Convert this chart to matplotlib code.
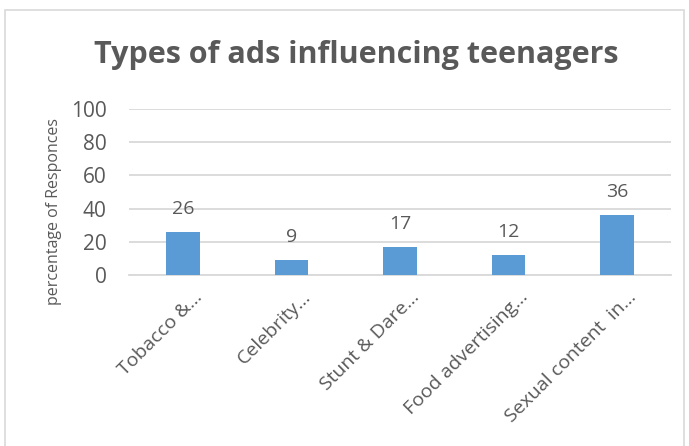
import matplotlib.pyplot as plt
from matplotlib.patches import Rectangle
from matplotlib.transforms import ScaledTranslation

categories = ["Tobacco &...", "Celebrity...", "Stunt & Dare...",
              "Food advertising...", "Sexual content  in..."]
responses = [26, 9, 17, 12, 36]
y_ticks = [0, 20, 40, 60, 80, 100]

plt.rcParams['font.family'] = ['Open Sans', 'DejaVu Sans']
text_color = '#595959'
bar_color = '#5B9BD5'
grid_color = '#D9D9D9'

fig = plt.figure(figsize=(6.89, 4.46), dpi=100)
W, H = 689, 446

# chart frame
fig.patches.append(Rectangle((5 / W, -0.05), 679 / W, 1.05 - 10 / H,
                             transform=fig.transFigure, fill=False,
                             edgecolor='#D9D9D9', linewidth=1.2))

ax = fig.add_axes([129 / W, 1 - 275 / H, 542 / W, 166 / H])
x = range(len(categories))
ax.bar(x, responses, width=0.31, color=bar_color, zorder=3)
for xi, v in zip(x, responses):
    ax.annotate(str(v), (xi, v), xytext=(0, 10), textcoords='offset points',
                ha='center', va='bottom', fontsize=14, color=text_color)

ax.set_xlim(-0.5, len(categories) - 0.5)
ax.set_ylim(0, 100)
ax.set_yticks(y_ticks)
ax.yaxis.grid(True, color=grid_color, linewidth=1.3, zorder=0)
for s in ['top', 'right', 'left']:
    ax.spines[s].set_visible(False)
ax.spines['bottom'].set_color(grid_color)
ax.spines['bottom'].set_linewidth(1.3)
ax.tick_params(axis='y', length=0, labelsize=15, colors=text_color, pad=16)
ax.tick_params(axis='x', length=0, labelsize=14, colors=text_color, pad=8)
ax.set_xticks(list(x))
ax.set_xticklabels(categories, rotation=45, ha='right', rotation_mode='anchor')
# nudge the slanted labels a little to the right
shift = ScaledTranslation(10 / 100, -2 / 100, fig.dpi_scale_trans)
for lbl in ax.get_xticklabels():
    lbl.set_transform(lbl.get_transform() + shift)
ax.set_ylabel("percentage of Responces", fontsize=11.5, color=text_color)
ax.yaxis.set_label_coords(-67 / 542, 0.38)

fig.text(356 / W, 1 - 55 / H, "Types of ads influencing teenagers",
         ha='center', va='center', fontsize=22, fontweight='bold', color=text_color)

fig.savefig("out.png", dpi=100)
